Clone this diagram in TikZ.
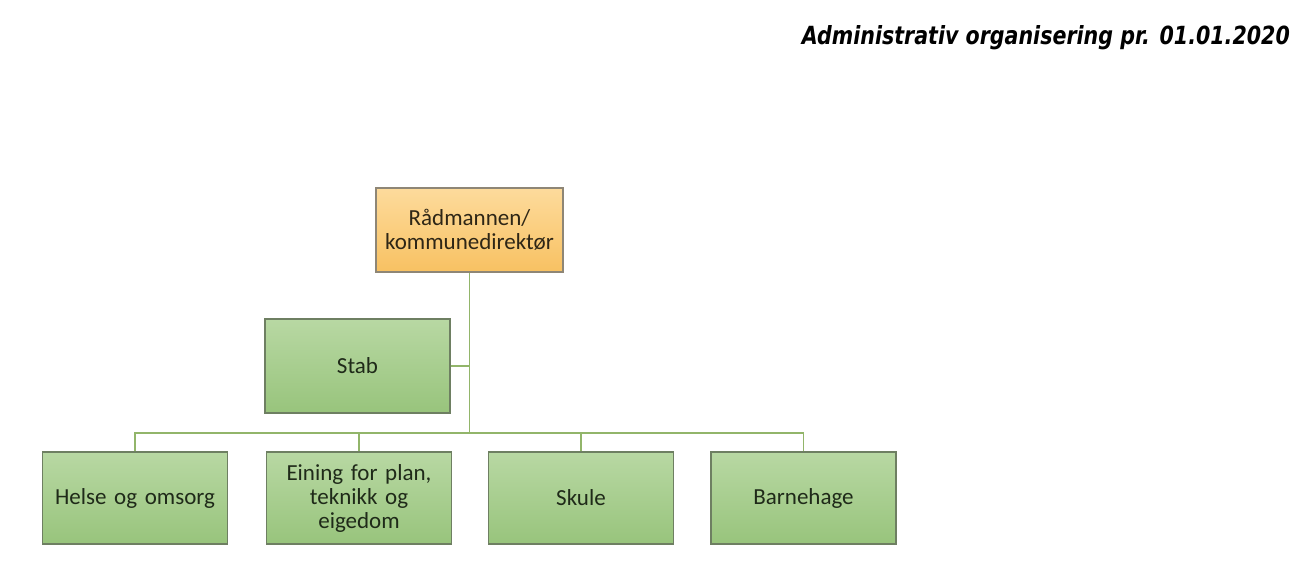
\documentclass[tikz,border=0pt]{standalone}
\usepackage{fontspec}
\setmainfont{Carlito}
\newfontfamily\titlefont{DejaVu Sans}
\usetikzlibrary{calc}
\definecolor{linegreen}{HTML}{92B56A}
\definecolor{greentop}{HTML}{B8D8A3}
\definecolor{greenbot}{HTML}{98C47C}
\definecolor{greenedge}{HTML}{6E7F62}
\definecolor{orangetop}{HTML}{FDDB9C}
\definecolor{orangebot}{HTML}{F8C162}
\definecolor{orangeedge}{HTML}{8E8676}
\definecolor{boxtext}{HTML}{1F2A19}
\definecolor{roottext}{HTML}{2E2616}
\begin{document}
\begin{tikzpicture}[x=1pt,y=-1pt,
  unitbox/.style={draw=greenedge, line width=1.3pt, top color=greentop, bottom color=greenbot,
    minimum width=185pt, minimum height=92pt, inner sep=2pt, align=center, text width=178pt,
    font=\fontsize{23}{24}\selectfont, text=boxtext},
  rootbox/.style={unitbox, draw=orangeedge, top color=orangetop, bottom color=orangebot,
    minimum width=187pt, minimum height=84pt, text=roottext},
  conn/.style={draw=linegreen, line width=1.4pt}]
\useasboundingbox (0,0) rectangle (1296,560);
\fill[white] (0,0) rectangle (1296,560);

\node[anchor=base east, inner sep=0pt] (title) at (1290,44)
  {\resizebox{488pt}{19pt}{\titlefont\bfseries\itshape Administrativ organisering pr. 01.01.2020}};

\node[rootbox] (root) at (469.5,230) {Rådmannen/\\kommunedirektør};
\node[unitbox, minimum height=94pt] (stab) at (357.5,366) {Stab};
\node[unitbox] (helse) at (135,498) {Helse og omsorg};
\node[unitbox] (eining) at (359,498) {Eining for plan,\\teknikk og\\eigedom};
\node[unitbox] (skule) at (581,498) {Skule};
\node[unitbox] (barn) at (803.5,498) {Barnehage};

\coordinate (j) at (469.5,433);

\draw[conn] (root.south) -- (j);
\draw[conn] (stab.east) -- (stab.east -| root.south);
\draw[conn] (helse.north) -- (helse.north |- j) -- (barn.north |- j) -- (barn.north);
\draw[conn] (eining.north) -- (eining.north |- j);
\draw[conn] (skule.north) -- (skule.north |- j);
\end{tikzpicture}
\end{document}
